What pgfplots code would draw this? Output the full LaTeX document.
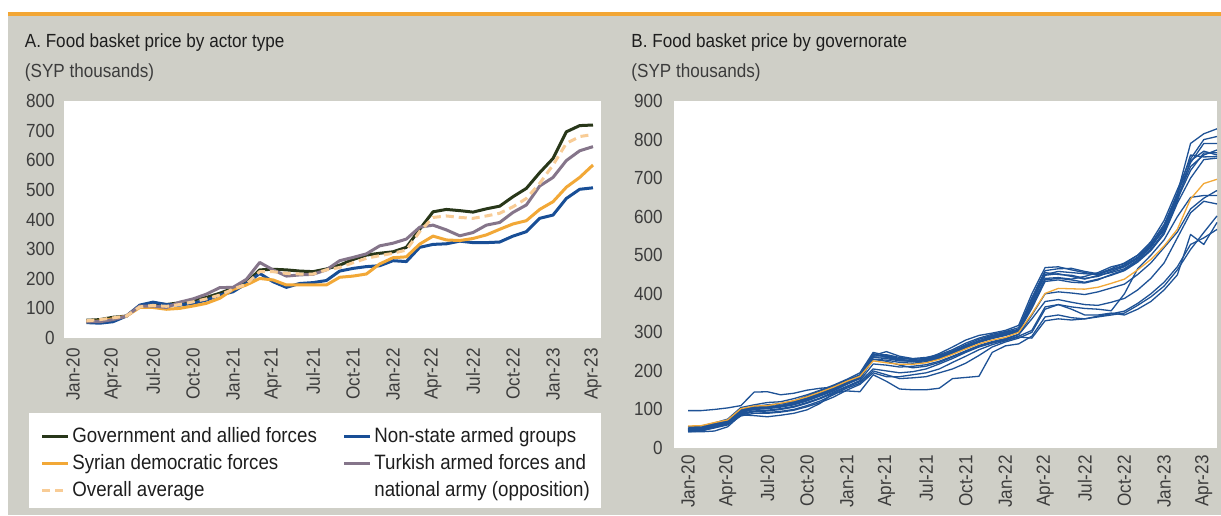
\documentclass[border=0pt]{standalone}
\usepackage{fontspec}
\setmainfont{Liberation Sans}[FakeStretch=0.9]
\usepackage{pgfplots}
\usepackage{pgfplotstable}
\pgfplotsset{compat=1.18}
\definecolor{bggrey}{RGB}{207,207,199}
\definecolor{accent}{RGB}{242,166,52}
\definecolor{govc}{RGB}{40,55,25}
\definecolor{nsagc}{RGB}{24,78,150}
\definecolor{sdfc}{RGB}{242,168,55}
\definecolor{turc}{RGB}{133,117,138}
\definecolor{avgc}{RGB}{248,204,150}
\definecolor{govblue}{RGB}{30,82,150}
\definecolor{txt}{RGB}{60,60,60}
\definecolor{ttl}{RGB}{30,30,30}

\pgfplotstableread{
i gov nsag sdf tur avg
1 60 52 55 55 58
2 62 50 57 55 62
3 70 55 65 62 68
4 74 74 74 74 74
5 108 111 103 108 105
6 117 121 103 108 110
7 113 113 97 103 107
8 119 111 100 121 113
9 128 117 108 132 122
10 137 128 117 148 132
11 151 145 134 170 145
12 168 156 164 171 165
13 187 184 179 198 182
14 230 218 201 255 224
15 232 190 196 230 224
16 230 171 179 209 218
17 226 184 179 213 216
18 224 187 179 215 216
19 233 194 179 230 230
20 246 226 205 261 238
21 265 235 209 272 254
22 280 241 216 284 269
23 286 244 250 311 278
24 291 261 271 320 286
25 306 258 274 334 297
26 367 306 317 374 359
27 426 316 344 381 407
28 434 318 331 365 412
29 430 327 329 345 407
30 425 322 336 356 404
31 436 322 348 381 412
32 445 324 367 390 421
33 477 344 385 424 443
34 505 359 396 449 471
35 558 404 434 513 522
36 606 415 460 542 584
37 696 471 509 599 657
38 717 502 542 632 680
39 719 507 584 646 687
}\actortable

\pgfplotstableread{
i L1 L2 L3 L4 L5 L6 L7 L8 L9 L10 L11 L12 L13 L14 O
0 55 50 48 45 52 47 50 44 42 97 42 46 44 46 57
1 57 52 50 48 54 49 53 46 44 97 42 47 45 48 58
2 65 62 60 58 63 58 61 55 53 100 44 55 52 57 66
3 75 72 70 68 72 66 70 64 62 104 55 62 60 67 73
4 105 100 98 95 100 92 97 90 88 110 86 85 83 94 102
5 112 108 104 100 106 100 103 96 94 145 84 95 90 101 109
6 118 112 108 104 110 102 106 98 96 146 81 92 90 105 110
7 120 115 110 108 114 106 110 102 100 138 85 95 93 108 116
8 128 122 118 115 120 112 117 108 106 142 90 100 98 114 123
9 138 135 128 125 130 122 127 118 116 150 99 110 107 124 133
10 150 148 142 138 143 135 140 130 128 155 116 122 118 137 145
11 163 160 156 152 156 148 154 145 142 158 142 138 132 150 158
12 178 176 172 168 170 165 170 160 158 168 148 155 150 166 173
13 195 190 188 185 182 180 186 175 172 180 146 168 165 183 186
14 248 240 245 238 235 230 242 218 205 230 190 200 195 236 226
15 240 250 235 242 232 228 238 215 200 225 173 190 185 236 221
16 232 238 228 235 226 222 230 210 195 215 153 180 185 228 217
17 230 232 226 230 225 220 226 212 198 208 151 182 190 224 217
18 232 235 228 232 228 224 230 216 205 212 151 185 195 226 221
19 245 242 238 240 236 232 238 225 218 222 155 195 205 234 230
20 262 255 252 250 248 246 250 238 232 236 180 205 222 247 243
21 280 272 268 265 262 260 264 252 248 250 183 220 238 261 257
22 292 285 282 278 276 274 278 266 262 264 186 240 255 275 270
23 298 295 292 290 286 284 288 276 272 274 248 262 268 285 280
24 305 302 300 298 295 292 296 284 280 282 265 275 278 293 287
25 318 312 308 305 305 302 306 295 290 294 270 285 288 303 300
26 400 390 385 375 370 362 380 345 305 335 290 300 285 368 348
27 468 460 455 448 440 432 450 400 366 380 340 360 330 436 401
28 470 465 450 452 442 436 458 405 372 385 345 372 335 440 414
29 462 466 448 445 438 430 455 402 366 378 338 360 332 436 413
30 455 458 440 438 445 428 452 398 362 372 335 345 335 430 412
31 450 452 445 448 455 436 450 405 360 370 340 345 342 438 417
32 462 465 458 455 470 450 462 415 356 378 345 350 348 448 427
33 475 480 470 465 478 462 472 425 400 388 350 345 355 460 438
34 495 500 492 488 500 485 492 450 465 410 370 360 375 482 462
35 530 535 528 520 525 515 522 480 500 440 392 380 400 512 489
36 580 590 575 570 565 560 570 520 540 480 420 410 430 555 524
37 660 670 660 650 645 640 655 560 600 545 462 449 470 635 567
38 790 750 740 730 720 745 760 620 650 610 515 554 528 700 646
39 815 800 790 760 765 770 755 648 655 640 559 528 545 748 686
40 828 808 790 773 766 760 756 668 655 633 602 585 567 752 697
}\govtable

\newcommand{\chartfont}{\fontsize{9.5pt}{11pt}\selectfont}
\newcommand{\legfont}{\fontsize{10.4pt}{12pt}\selectfont}

\pgfplotsset{
  panel/.style={
    scale only axis,
    axis line style={draw=none},
    major tick length=0pt,
    minor tick num=0,
    axis background/.style={fill=white},
    xtick={0,3,...,39},
    xticklabels={Jan-20,Apr-20,Jul-20,Oct-20,Jan-21,Apr-21,Jul-21,Oct-21,Jan-22,Apr-22,Jul-22,Oct-22,Jan-23,Apr-23},
    xticklabel style={rotate=90, anchor=east, inner sep=0pt},
    yticklabel style={anchor=east, inner sep=0pt},
    tick label style={font=\chartfont, text=txt},
    /pgf/number format/assume math mode=true,
    clip=false,
  },
  gl/.style={govblue, line width=0.65pt, line join=round, no markers, solid},
}

\begin{document}
\chartfont
\begin{tikzpicture}[x=1pt,y=1pt]
\fill[white] (0,0) rectangle (610.5,257.5);
\fill[bggrey] (4,0) rectangle (610.5,249.5);
\fill[accent] (4,249.5) rectangle (610.5,251.7);
\fill[white] (14.25,3.5) rectangle (300.5,51);

\node[anchor=base west, inner sep=0pt, text=ttl, font=\chartfont] at (12.25,233.5) {A. Food basket price by actor type};
\node[anchor=base west, inner sep=0pt, text=txt, font=\chartfont] at (12.25,218.5) {(SYP thousands)};
\node[anchor=base west, inner sep=0pt, text=ttl, font=\chartfont] at (315.5,233.5) {B. Food basket price by governorate};
\node[anchor=base west, inner sep=0pt, text=txt, font=\chartfont] at (315.5,218.5) {(SYP thousands)};

\begin{axis}[panel,
  at={(32pt,88.5pt)}, anchor=south west,
  width=268.5pt, height=118.5pt,
  xmin=-0.68, xmax=39.6, ymin=0, ymax=800,
  ytick={0,100,...,800},
  xticklabel shift=5pt, yticklabel shift=4.5pt,
  legend columns=2,
  legend cell align=left,
  legend image code/.code={\draw[#1] (0pt,0pt) -- (12.75pt,0pt);},
  legend style={at={(-0.0438,-0.373)}, anchor=north west, draw=none, fill=none,
    inner sep=0pt, font=\legfont, text=ttl, row sep=3.5pt,
    nodes={inner sep=0pt, text height=7.6pt, text depth=2.4pt},
    /tikz/every odd column/.append style={column sep=1.5pt},
    /tikz/every even column/.append style={column sep=13pt}},
  every axis plot/.append style={line width=1.5pt, line join=round, no markers},
]
\addplot[govc] table[x=i, y=gov] {\actortable};
\addlegendentry{Government and allied forces}
\addplot[nsagc] table[x=i, y=nsag] {\actortable};
\addlegendentry{Non-state armed groups}
\addplot[sdfc] table[x=i, y=sdf] {\actortable};
\addlegendentry{Syrian democratic forces}
\addplot[turc] table[x=i, y=tur] {\actortable};
\addlegendentry{Turkish armed forces and}
\addplot[avgc, dash pattern=on 4pt off 2.5pt] table[x=i, y=avg] {\actortable};
\addlegendentry{Overall average}
\addlegendimage{empty legend}
\addlegendentry{national army (opposition)}
\end{axis}

\begin{axis}[panel,
  at={(337pt,33.5pt)}, anchor=south west,
  width=271.5pt, height=173.5pt,
  xmin=-1.06, xmax=40, ymin=0, ymax=900,
  ytick={0,100,...,900},
  xticklabel shift=3.5pt, yticklabel shift=5.5pt,
]
\addplot[gl] table[x=i, y=L1] {\govtable};
\addplot[gl] table[x=i, y=L2] {\govtable};
\addplot[gl] table[x=i, y=L3] {\govtable};
\addplot[gl] table[x=i, y=L4] {\govtable};
\addplot[gl] table[x=i, y=L5] {\govtable};
\addplot[gl] table[x=i, y=L6] {\govtable};
\addplot[gl] table[x=i, y=L7] {\govtable};
\addplot[gl] table[x=i, y=L8] {\govtable};
\addplot[gl] table[x=i, y=L9] {\govtable};
\addplot[gl] table[x=i, y=L10] {\govtable};
\addplot[gl] table[x=i, y=L11] {\govtable};
\addplot[gl] table[x=i, y=L12] {\govtable};
\addplot[gl] table[x=i, y=L13] {\govtable};
\addplot[gl] table[x=i, y=L14] {\govtable};
\addplot[sdfc, line width=0.65pt, line join=round, no markers] table[x=i, y=O] {\govtable};
\end{axis}
\end{tikzpicture}
\end{document}
